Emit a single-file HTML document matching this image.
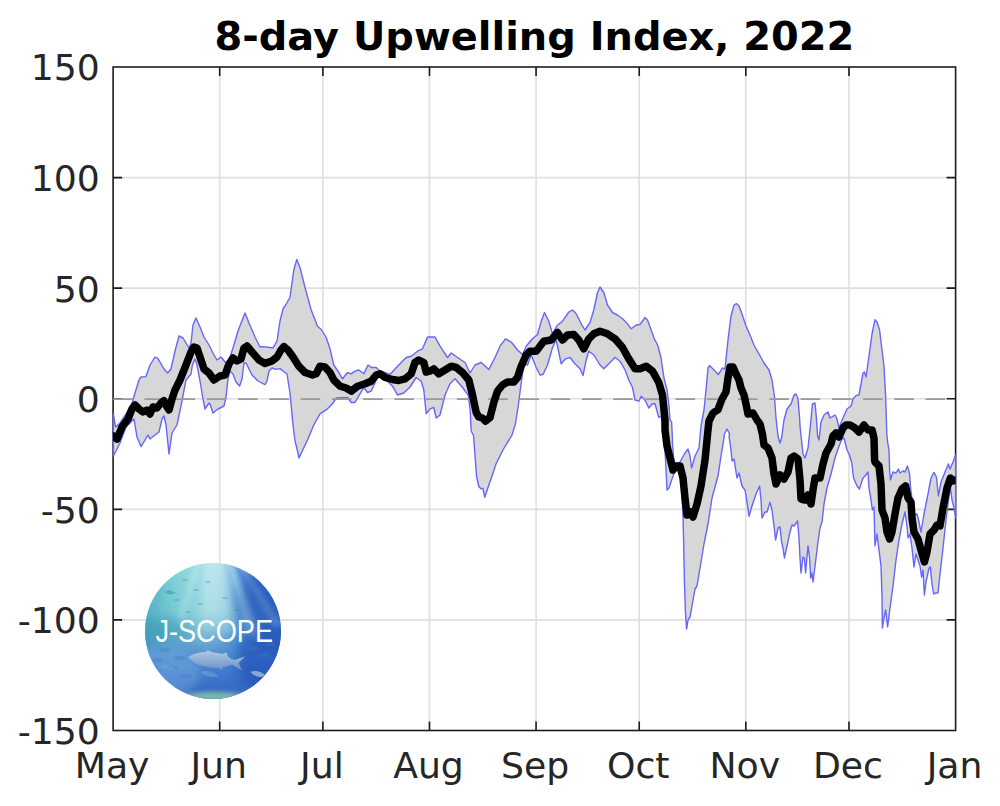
<!DOCTYPE html>
<html lang="en"><head><meta charset="utf-8"><title>8-day Upwelling Index, 2022</title>
<style>html,body{margin:0;padding:0;background:#fff}svg{display:block}text{font-family:"DejaVu Sans","Liberation Sans",sans-serif;fill:#262626}.t{font-weight:bold;fill:#000}.lg{font-family:"Liberation Sans",sans-serif;fill:#fff}</style></head><body>
<svg width="1000" height="806" viewBox="0 0 1000 806">
<defs><linearGradient id="g1" x1="0" y1="0" x2="1" y2="0"><stop offset="0" stop-color="#56b4c2"/><stop offset="0.2" stop-color="#80d2d8"/><stop offset="0.45" stop-color="#a8e2e8"/><stop offset="0.58" stop-color="#8ccae4"/><stop offset="0.68" stop-color="#5e98d6"/><stop offset="0.8" stop-color="#3a6cc8"/><stop offset="1" stop-color="#2a54bc"/></linearGradient><linearGradient id="g2" x1="0" y1="0" x2="0" y2="1"><stop offset="0" stop-color="#3c96b9" stop-opacity="0"/><stop offset="0.34" stop-color="#3c96b9" stop-opacity="0.15"/><stop offset="0.48" stop-color="#3a8cc0" stop-opacity="0.36"/><stop offset="0.6" stop-color="#3e80c8" stop-opacity="0.62"/><stop offset="0.7" stop-color="#3e7acb" stop-opacity="0.86"/><stop offset="0.9" stop-color="#3468c6" stop-opacity="0.94"/><stop offset="1" stop-color="#3a6cc0" stop-opacity="1"/></linearGradient><linearGradient id="gf" x1="0" y1="0" x2="0" y2="1"><stop offset="0" stop-color="#b4cce0"/><stop offset="1" stop-color="#6c92c8"/></linearGradient><filter id="bl" filterUnits="userSpaceOnUse" x="100" y="520" width="230" height="230"><feGaussianBlur stdDeviation="5"/></filter><filter id="b2" filterUnits="userSpaceOnUse" x="100" y="520" width="230" height="230"><feGaussianBlur stdDeviation="2.2"/></filter><filter id="bs" filterUnits="userSpaceOnUse" x="100" y="520" width="230" height="230"><feGaussianBlur stdDeviation="0.5"/></filter><clipPath id="ax"><rect x="113.1" y="67" width="842.5" height="663.5"/></clipPath><clipPath id="cl"><circle cx="213" cy="631" r="68"/></clipPath></defs>
<rect width="1000" height="806" fill="#fff"/>
<path d="M219.70 67.0 V730.5 M322.87 67.0 V730.5 M429.47 67.0 V730.5 M536.07 67.0 V730.5 M639.23 67.0 V730.5 M745.83 67.0 V730.5 M849.00 67.0 V730.5 M113.10 177.58 H955.60 M113.10 288.17 H955.60 M113.10 398.75 H955.60 M113.10 509.33 H955.60 M113.10 619.92 H955.60" stroke="#dfdfdf" stroke-width="1.6" fill="none"/>
<rect x="113.10" y="67.00" width="842.50" height="663.50" fill="none" stroke="#1c1c1c" stroke-width="1.6"/>
<path d="M219.70 730.5 v-9 M219.70 67.0 v9 M322.87 730.5 v-9 M322.87 67.0 v9 M429.47 730.5 v-9 M429.47 67.0 v9 M536.07 730.5 v-9 M536.07 67.0 v9 M639.23 730.5 v-9 M639.23 67.0 v9 M745.83 730.5 v-9 M745.83 67.0 v9 M849.00 730.5 v-9 M849.00 67.0 v9 M113.10 177.58 h9 M955.60 177.58 h-9 M113.10 288.17 h9 M955.60 288.17 h-9 M113.10 398.75 h9 M955.60 398.75 h-9 M113.10 509.33 h9 M955.60 509.33 h-9 M113.10 619.92 h9 M955.60 619.92 h-9" stroke="#1c1c1c" stroke-width="1.6" fill="none"/>
<path d="M113.4 414.0 L115.6 427.0 L120.0 423.0 L126.0 414.0 L132.0 403.0 L135.0 393.0 L139.0 380.0 L141.0 377.0 L146.0 376.6 L150.0 365.0 L155.0 357.0 L158.0 358.6 L164.0 369.0 L167.6 373.0 L171.0 369.0 L175.0 351.0 L179.0 336.0 L183.0 338.0 L189.0 348.0 L191.0 343.0 L193.0 325.0 L196.0 318.0 L200.0 327.0 L204.0 337.0 L209.0 345.0 L214.0 355.0 L217.0 360.0 L221.0 357.0 L225.0 362.0 L228.0 363.0 L233.0 348.0 L238.0 331.0 L245.0 313.0 L249.0 323.0 L255.0 337.0 L260.0 347.0 L264.0 346.6 L273.0 348.0 L277.0 341.0 L280.0 321.0 L283.0 309.0 L285.0 306.0 L290.0 297.5 L293.8 270.0 L296.8 259.5 L300.0 267.5 L305.0 287.5 L311.2 310.0 L317.5 326.2 L321.2 329.5 L326.2 337.5 L330.0 348.8 L333.8 365.0 L338.8 372.5 L342.5 378.8 L347.5 372.5 L351.2 373.8 L355.0 371.2 L358.8 370.0 L363.8 373.8 L368.0 365.0 L371.2 367.5 L376.2 367.5 L380.0 371.2 L385.0 372.5 L390.0 374.5 L397.5 366.2 L406.2 357.5 L411.2 356.2 L417.5 351.2 L422.5 348.8 L427.5 337.0 L435.0 337.0 L440.0 346.2 L447.5 357.5 L451.2 353.0 L457.5 357.5 L465.0 362.5 L470.0 373.0 L475.0 365.0 L481.2 362.5 L488.8 369.5 L495.0 357.5 L500.0 346.2 L505.5 338.8 L511.2 342.0 L517.5 350.0 L522.5 354.5 L526.2 346.2 L532.5 338.8 L537.5 334.5 L541.2 321.2 L544.5 312.5 L548.8 321.2 L552.5 333.8 L557.5 325.0 L562.5 321.2 L568.8 312.0 L572.5 310.0 L576.2 313.8 L581.2 323.8 L585.0 330.0 L590.0 322.5 L593.8 310.0 L597.5 292.5 L600.0 287.0 L603.8 292.5 L607.5 305.0 L612.5 312.5 L617.5 315.0 L622.5 318.8 L627.5 323.8 L631.2 328.8 L636.2 325.0 L640.0 324.5 L645.0 317.5 L647.5 320.0 L652.5 333.8 L654.0 338.0 L658.0 346.0 L661.0 358.0 L664.0 378.0 L667.0 390.0 L669.0 406.0 L670.0 420.0 L671.6 422.0 L672.4 438.0 L672.4 442.0 L673.6 458.0 L675.6 465.0 L680.0 462.0 L685.0 453.0 L688.0 449.0 L690.0 456.0 L691.6 468.0 L695.0 456.0 L699.0 448.0 L701.0 426.0 L704.0 410.0 L706.0 390.0 L708.0 368.0 L709.6 365.6 L714.0 370.0 L718.4 374.4 L722.4 368.0 L725.0 369.0 L728.0 340.0 L731.0 316.0 L734.0 305.0 L736.4 303.6 L739.0 306.0 L742.0 314.0 L746.0 326.0 L750.0 335.0 L754.0 345.0 L759.0 354.0 L764.0 363.0 L769.0 370.0 L772.0 380.0 L774.4 396.0 L776.0 418.0 L778.0 436.0 L780.0 443.0 L781.6 438.0 L784.0 420.0 L787.0 409.0 L791.0 404.0 L794.0 395.0 L796.0 394.0 L798.0 399.0 L799.6 418.0 L800.0 426.0 L803.0 454.0 L805.0 458.0 L808.0 448.0 L811.0 420.0 L812.4 404.0 L815.0 403.0 L816.4 418.0 L817.6 436.0 L819.0 440.0 L821.0 422.0 L824.0 415.0 L828.0 412.0 L830.0 418.0 L835.0 415.0 L837.0 419.0 L839.0 428.0 L843.0 418.0 L847.0 409.0 L851.0 406.0 L853.0 399.0 L856.0 395.6 L859.0 395.0 L861.0 384.0 L863.0 373.0 L864.4 372.0 L866.0 377.0 L869.0 356.0 L872.0 334.0 L875.0 319.6 L877.0 322.0 L879.6 330.0 L882.0 350.0 L884.0 366.0 L885.6 396.0 L886.4 420.0 L886.8 434.0 L887.6 442.0 L889.0 450.0 L889.6 470.0 L890.4 480.0 L893.0 472.0 L896.0 473.0 L898.4 469.0 L900.0 473.0 L903.0 471.0 L905.0 472.0 L907.4 466.0 L909.6 474.0 L910.6 488.0 L913.0 506.0 L915.0 515.0 L917.0 514.0 L919.0 522.0 L921.0 532.0 L924.0 514.0 L928.0 494.0 L931.0 478.0 L934.0 472.4 L936.4 477.0 L938.4 496.0 L941.0 482.0 L945.0 472.0 L948.4 464.0 L950.0 469.0 L953.0 462.0 L955.6 455.0 L955.6 518.0 L954.0 508.0 L952.0 500.0 L950.4 488.0 L949.0 496.0 L946.0 520.0 L943.0 548.0 L940.0 574.0 L938.0 593.0 L936.0 593.0 L933.6 594.0 L932.0 584.0 L930.4 567.0 L929.0 568.0 L926.0 582.0 L924.4 595.0 L923.0 570.0 L921.6 577.0 L920.0 566.0 L918.0 560.0 L916.0 554.0 L914.0 567.0 L912.0 548.0 L910.0 534.0 L908.0 538.0 L907.0 526.0 L905.0 512.0 L902.0 524.0 L899.0 540.0 L896.0 560.0 L893.0 586.0 L890.0 608.0 L887.6 627.0 L885.6 610.0 L884.0 618.0 L882.4 628.0 L882.0 596.0 L881.0 566.0 L879.0 550.0 L877.0 534.0 L875.0 546.0 L874.0 507.0 L872.4 510.0 L871.0 500.0 L869.0 488.0 L868.0 472.0 L865.0 476.0 L863.0 478.0 L859.4 489.0 L857.0 486.0 L853.6 478.0 L851.6 462.0 L849.0 454.0 L847.0 450.0 L844.0 438.0 L842.0 439.0 L839.0 446.0 L835.0 458.0 L831.0 474.0 L827.0 488.0 L824.0 504.0 L822.0 522.0 L820.0 528.0 L818.0 542.0 L815.0 566.0 L813.0 582.0 L812.0 573.0 L810.6 578.0 L809.6 558.0 L808.0 546.0 L805.6 573.0 L804.4 558.0 L803.0 557.0 L801.0 573.0 L800.0 558.0 L799.0 538.0 L797.6 521.0 L794.0 526.0 L792.0 525.0 L790.0 532.0 L787.0 546.0 L784.4 558.0 L783.0 548.0 L781.6 542.0 L780.0 527.0 L778.0 528.0 L775.6 540.0 L774.0 526.0 L772.0 510.0 L770.0 502.4 L767.0 512.0 L765.0 512.0 L762.0 518.0 L761.0 500.0 L759.6 486.0 L756.0 494.0 L752.0 506.0 L749.0 516.4 L747.0 502.0 L745.0 490.0 L742.0 486.0 L739.0 473.0 L737.0 478.0 L734.0 459.0 L732.0 461.0 L731.0 450.0 L729.0 436.0 L729.6 434.0 L727.0 429.0 L724.4 434.0 L724.0 438.0 L721.0 456.0 L718.0 476.0 L712.0 498.0 L708.0 524.0 L704.0 544.0 L700.0 568.0 L697.0 586.0 L695.0 589.0 L692.0 606.0 L690.0 617.0 L688.0 620.0 L686.6 629.0 L685.4 612.0 L684.4 580.0 L683.6 540.0 L683.0 516.0 L682.0 496.0 L680.0 470.0 L678.0 464.0 L673.0 476.0 L669.0 488.0 L667.0 490.0 L666.0 470.0 L665.0 450.0 L665.5 455.0 L663.8 430.0 L661.2 416.2 L658.8 417.5 L655.0 403.8 L652.5 403.8 L648.8 408.0 L645.0 400.0 L641.2 396.2 L638.8 401.2 L635.0 400.0 L632.5 387.5 L628.8 380.0 L625.0 370.0 L620.0 361.2 L615.0 357.5 L608.8 363.8 L603.8 368.8 L600.0 365.0 L593.8 355.0 L588.8 351.2 L586.2 360.0 L583.0 375.5 L580.0 368.8 L575.0 363.8 L570.0 357.5 L565.5 358.8 L561.2 363.8 L558.8 352.5 L556.2 340.0 L552.5 347.5 L547.5 365.0 L543.0 374.5 L540.0 375.0 L536.2 367.5 L531.2 355.0 L527.5 365.0 L523.8 363.8 L520.8 386.0 L518.5 404.0 L515.5 423.5 L511.8 435.5 L503.5 449.0 L496.0 464.0 L491.5 477.5 L487.8 488.0 L484.8 497.3 L482.8 488.3 L481.0 488.8 L478.8 486.5 L476.5 476.0 L475.0 455.0 L473.5 435.5 L471.2 431.0 L470.2 410.0 L468.2 395.0 L466.2 392.5 L462.5 387.5 L455.0 378.8 L450.0 383.8 L445.0 395.0 L440.0 415.0 L436.2 418.0 L433.8 407.5 L430.0 408.8 L426.2 413.8 L423.8 390.0 L421.2 381.2 L416.2 377.5 L410.0 387.0 L403.8 393.0 L397.5 395.0 L392.5 386.2 L387.5 381.2 L382.5 373.8 L378.8 375.0 L376.2 380.0 L371.2 391.2 L367.5 392.5 L363.8 387.5 L360.0 393.8 L355.0 402.5 L351.2 402.5 L347.5 397.5 L336.2 398.0 L332.5 403.8 L327.5 408.8 L320.0 413.8 L313.8 425.0 L307.5 440.0 L299.0 458.0 L298.0 453.0 L295.0 441.0 L293.0 425.0 L290.0 393.0 L287.0 374.0 L280.0 368.6 L276.0 369.4 L272.0 368.0 L269.0 371.0 L267.0 381.0 L265.0 384.6 L258.0 381.0 L252.0 375.0 L246.0 363.0 L244.0 363.0 L242.0 379.0 L239.6 386.0 L236.0 382.0 L233.0 374.0 L230.0 371.0 L228.0 379.0 L226.0 397.0 L224.0 406.0 L218.0 409.0 L213.0 413.0 L210.0 404.0 L209.0 403.0 L205.0 409.0 L203.0 399.0 L200.0 381.0 L197.0 365.0 L195.0 359.0 L192.4 365.0 L191.0 374.0 L186.0 380.0 L182.0 401.0 L177.0 425.0 L172.0 433.0 L169.0 454.0 L166.0 425.0 L164.0 416.0 L162.0 419.0 L159.0 432.0 L155.0 435.0 L150.0 439.0 L148.0 435.0 L141.0 446.6 L137.0 437.0 L134.0 419.0 L126.0 427.0 L120.0 443.0 L113.4 456.0 Z" fill="#d7d7d7" stroke="#6666fa" stroke-width="1.4" stroke-linejoin="round"/>
<path d="M113.10 399.10 H955.60" stroke="#9a9a9a" stroke-width="1.7" stroke-dasharray="19.6 11.65" fill="none"/>
<path clip-path="url(#ax)" d="M113.4 436.0 L117.0 439.0 L122.0 427.0 L128.0 419.0 L132.0 409.0 L135.0 405.0 L139.0 409.0 L143.0 412.0 L147.0 410.0 L150.0 414.0 L153.0 407.0 L157.0 408.0 L161.0 403.0 L164.0 400.6 L167.0 407.0 L169.0 410.0 L172.0 399.0 L175.0 390.0 L180.0 380.0 L186.0 365.0 L191.0 352.0 L194.0 347.0 L197.0 348.0 L200.0 357.0 L204.0 369.0 L209.0 373.0 L214.0 380.0 L220.0 376.0 L225.0 375.0 L229.0 364.0 L233.0 358.0 L237.0 361.0 L241.0 359.0 L244.0 348.0 L247.0 346.0 L252.0 352.0 L259.0 360.0 L265.0 363.4 L272.0 361.0 L277.0 357.0 L281.0 350.0 L284.0 346.6 L288.0 350.0 L293.0 357.0 L298.8 366.2 L305.0 372.5 L312.5 375.0 L316.2 373.8 L320.0 366.2 L325.0 367.0 L330.0 372.5 L333.8 380.0 L340.0 386.2 L346.2 388.0 L351.2 391.2 L357.5 386.2 L365.0 383.8 L371.2 381.2 L376.2 375.0 L380.0 373.8 L385.0 377.5 L392.5 379.5 L398.8 380.5 L405.0 378.8 L411.2 373.8 L415.0 362.5 L418.8 360.0 L423.8 362.5 L426.2 372.0 L430.0 371.2 L433.8 368.8 L438.8 373.8 L445.0 370.0 L451.2 366.2 L456.2 367.5 L462.5 372.5 L468.8 380.0 L472.5 395.0 L476.2 412.5 L478.8 417.0 L482.5 418.0 L485.5 421.2 L490.0 417.5 L493.8 402.5 L497.5 391.2 L502.5 385.0 L507.5 382.0 L513.8 382.0 L517.5 377.5 L521.2 366.2 L526.2 355.0 L530.0 351.2 L536.2 351.2 L543.8 341.2 L551.2 340.0 L557.5 332.5 L562.5 340.0 L567.5 335.0 L573.8 334.5 L578.8 340.0 L583.8 348.8 L588.8 338.8 L593.8 333.8 L600.0 331.2 L607.5 333.8 L615.0 338.8 L622.5 347.5 L628.8 358.8 L635.0 368.8 L640.0 368.8 L646.2 366.2 L652.5 371.2 L658.8 382.5 L662.5 395.0 L664.0 410.0 L665.0 420.0 L665.0 430.0 L667.0 446.0 L670.0 458.0 L673.0 470.0 L676.0 466.0 L680.0 466.0 L683.0 478.0 L685.0 498.0 L687.0 515.0 L690.0 512.0 L693.0 517.0 L697.0 504.0 L701.0 486.0 L705.0 460.0 L708.0 430.0 L709.0 421.0 L713.0 413.0 L718.0 409.6 L722.0 399.0 L726.0 392.0 L728.0 378.0 L730.0 367.0 L733.0 367.0 L736.0 374.0 L739.0 380.0 L741.0 388.0 L744.0 395.0 L746.0 404.0 L748.0 414.0 L753.0 413.0 L757.0 420.0 L760.0 424.0 L762.4 434.0 L764.0 445.0 L768.0 448.0 L772.0 458.0 L774.0 474.0 L776.0 484.0 L780.0 475.0 L784.0 479.0 L788.0 472.0 L791.0 458.0 L794.0 456.0 L798.0 459.0 L800.0 480.0 L801.0 499.0 L805.0 500.0 L808.0 495.0 L811.0 504.0 L813.0 490.0 L815.0 478.0 L820.0 478.0 L823.0 464.0 L826.0 453.0 L831.0 444.0 L833.0 436.0 L836.0 433.0 L839.0 437.0 L843.0 428.0 L846.0 425.0 L850.0 425.0 L855.0 428.0 L859.0 432.0 L864.0 425.0 L868.0 430.0 L872.0 430.0 L874.0 438.0 L874.6 460.0 L875.0 462.0 L879.0 466.0 L881.0 484.0 L882.0 510.0 L885.0 518.0 L887.0 532.0 L889.6 539.0 L892.0 532.0 L895.0 514.0 L898.0 498.0 L902.0 489.0 L905.6 486.0 L908.0 498.0 L911.0 502.0 L912.0 518.0 L914.0 532.0 L918.0 539.0 L921.0 550.0 L924.4 562.0 L927.0 552.0 L930.0 534.0 L934.0 530.0 L937.0 525.0 L940.0 526.0 L943.0 508.0 L947.0 488.0 L950.4 478.0 L953.0 481.0 L955.6 480.0" fill="none" stroke="#000" stroke-width="7.5" stroke-linejoin="round" stroke-linecap="round"/>
<g clip-path="url(#cl)"><rect x="145" y="563" width="136" height="136" fill="url(#g1)"/><path d="M207 555 L226 555 L234 635 L202 635 Z" fill="#dcf6f6" opacity="0.55" filter="url(#bl)"/><path d="M226 560 L232 560 L262 640 L250 640 Z" fill="#bfe6f2" opacity="0.5" filter="url(#b2)"/><path d="M236 560 L240 560 L282 625 L274 628 Z" fill="#a8d2ee" opacity="0.4" filter="url(#b2)"/><path d="M196 560 L202 560 L180 640 L168 640 Z" fill="#c8f0f0" opacity="0.35" filter="url(#b2)"/><rect x="145" y="563" width="136" height="136" fill="url(#g2)"/><ellipse cx="160" cy="672" rx="40" ry="26" fill="#7fb2e2" opacity="0.45" filter="url(#bl)"/><ellipse cx="268" cy="660" rx="30" ry="34" fill="#1e48b4" opacity="0.5" filter="url(#bl)"/><ellipse cx="262" cy="598" rx="22" ry="30" fill="#2c58bc" opacity="0.4" filter="url(#bl)"/><ellipse cx="164" cy="630" rx="24" ry="11" fill="#3f9fb2" opacity="0.6" filter="url(#bl)"/><ellipse cx="214" cy="696.5" rx="30" ry="4.5" fill="#80bca6" opacity="0.95" filter="url(#b2)"/><g filter="url(#bs)"><path d="M188 657.3 C193 653.5 200 652 205 652 L208 650.6 L213 652.3 C217 652.8 220 653.4 222 654 L226.5 652.6 L228 656.5 C230 658 232 659.5 234.5 660 L245.3 656.3 L238.6 663 L241.8 670.4 L232 664.6 C229 665.6 226 666.6 223 667.2 L222 670.2 L218 668 C212 668 205 667 199 665 C194 663 190 660 188 657.3 Z" fill="url(#gf)" opacity="0.95"/><g fill="#3c78c4" opacity="0.35"><ellipse cx="165" cy="650" rx="6" ry="2.2"/><ellipse cx="180" cy="658" rx="6" ry="2.2"/><ellipse cx="158" cy="660" rx="5" ry="2"/><ellipse cx="172" cy="668" rx="6" ry="2.2"/><ellipse cx="186" cy="676" rx="6" ry="2.2"/><ellipse cx="252" cy="648" rx="6" ry="2.4"/><ellipse cx="264" cy="655" rx="6" ry="2.4"/><ellipse cx="258" cy="640" rx="5" ry="2"/><ellipse cx="270" cy="644" rx="5" ry="2"/></g><g fill="#3a96a6" opacity="0.4"><ellipse cx="185" cy="580" rx="3" ry="1"/><ellipse cx="196" cy="590" rx="3" ry="1"/><ellipse cx="176" cy="600" rx="3" ry="1"/><ellipse cx="200" cy="604" rx="3" ry="1"/><ellipse cx="188" cy="612" rx="3" ry="1"/><ellipse cx="208" cy="582" rx="3" ry="1"/><ellipse cx="225" cy="598" rx="3" ry="1"/><ellipse cx="236" cy="610" rx="3" ry="1"/></g><path d="M250.5 672 C255 670 261 671.5 265 675 C261 678.5 255 677.5 250.5 672 Z" fill="#9bb6d6" opacity="0.85"/><path d="M200 672 C206 670 213 671 219 676 C213 678 206 677 200 672 Z" fill="#7fa6da" opacity="0.5"/><path d="M160 666 C165 664 171 665 176 669 C171 671 165 670 160 666 Z" fill="#7fa6da" opacity="0.45"/><path d="M164 592 l6 -2 l6 3 l-6 1.5 Z" fill="#3c98a8" opacity="0.6"/></g></g>
<text class="lg" x="155.4" y="641.6" font-size="30.8" textLength="117.6" lengthAdjust="spacingAndGlyphs">J-SCOPE</text>
<text x="99.8" y="80.3" font-size="36.2" text-anchor="end">150</text>
<text x="99.8" y="190.9" font-size="36.2" text-anchor="end">100</text>
<text x="99.8" y="301.5" font-size="36.2" text-anchor="end">50</text>
<text x="99.8" y="412.1" font-size="36.2" text-anchor="end">0</text>
<text x="99.8" y="522.6" font-size="36.2" text-anchor="end">-50</text>
<text x="99.8" y="633.2" font-size="36.2" text-anchor="end">-100</text>
<text x="99.8" y="743.8" font-size="36.2" text-anchor="end">-150</text>
<text x="112.1" y="778.4" font-size="36.2" text-anchor="middle">May</text>
<text x="218.7" y="778.4" font-size="36.2" text-anchor="middle">Jun</text>
<text x="321.9" y="778.4" font-size="36.2" text-anchor="middle">Jul</text>
<text x="428.5" y="778.4" font-size="36.2" text-anchor="middle">Aug</text>
<text x="535.1" y="778.4" font-size="36.2" text-anchor="middle">Sep</text>
<text x="638.2" y="778.4" font-size="36.2" text-anchor="middle">Oct</text>
<text x="744.8" y="778.4" font-size="36.2" text-anchor="middle">Nov</text>
<text x="848.0" y="778.4" font-size="36.2" text-anchor="middle">Dec</text>
<text x="954.6" y="778.4" font-size="36.2" text-anchor="middle">Jan</text>
<text class="t" x="534.4" y="50" font-size="39.9" text-anchor="middle">8-day Upwelling Index, 2022</text>
</svg></body></html>
